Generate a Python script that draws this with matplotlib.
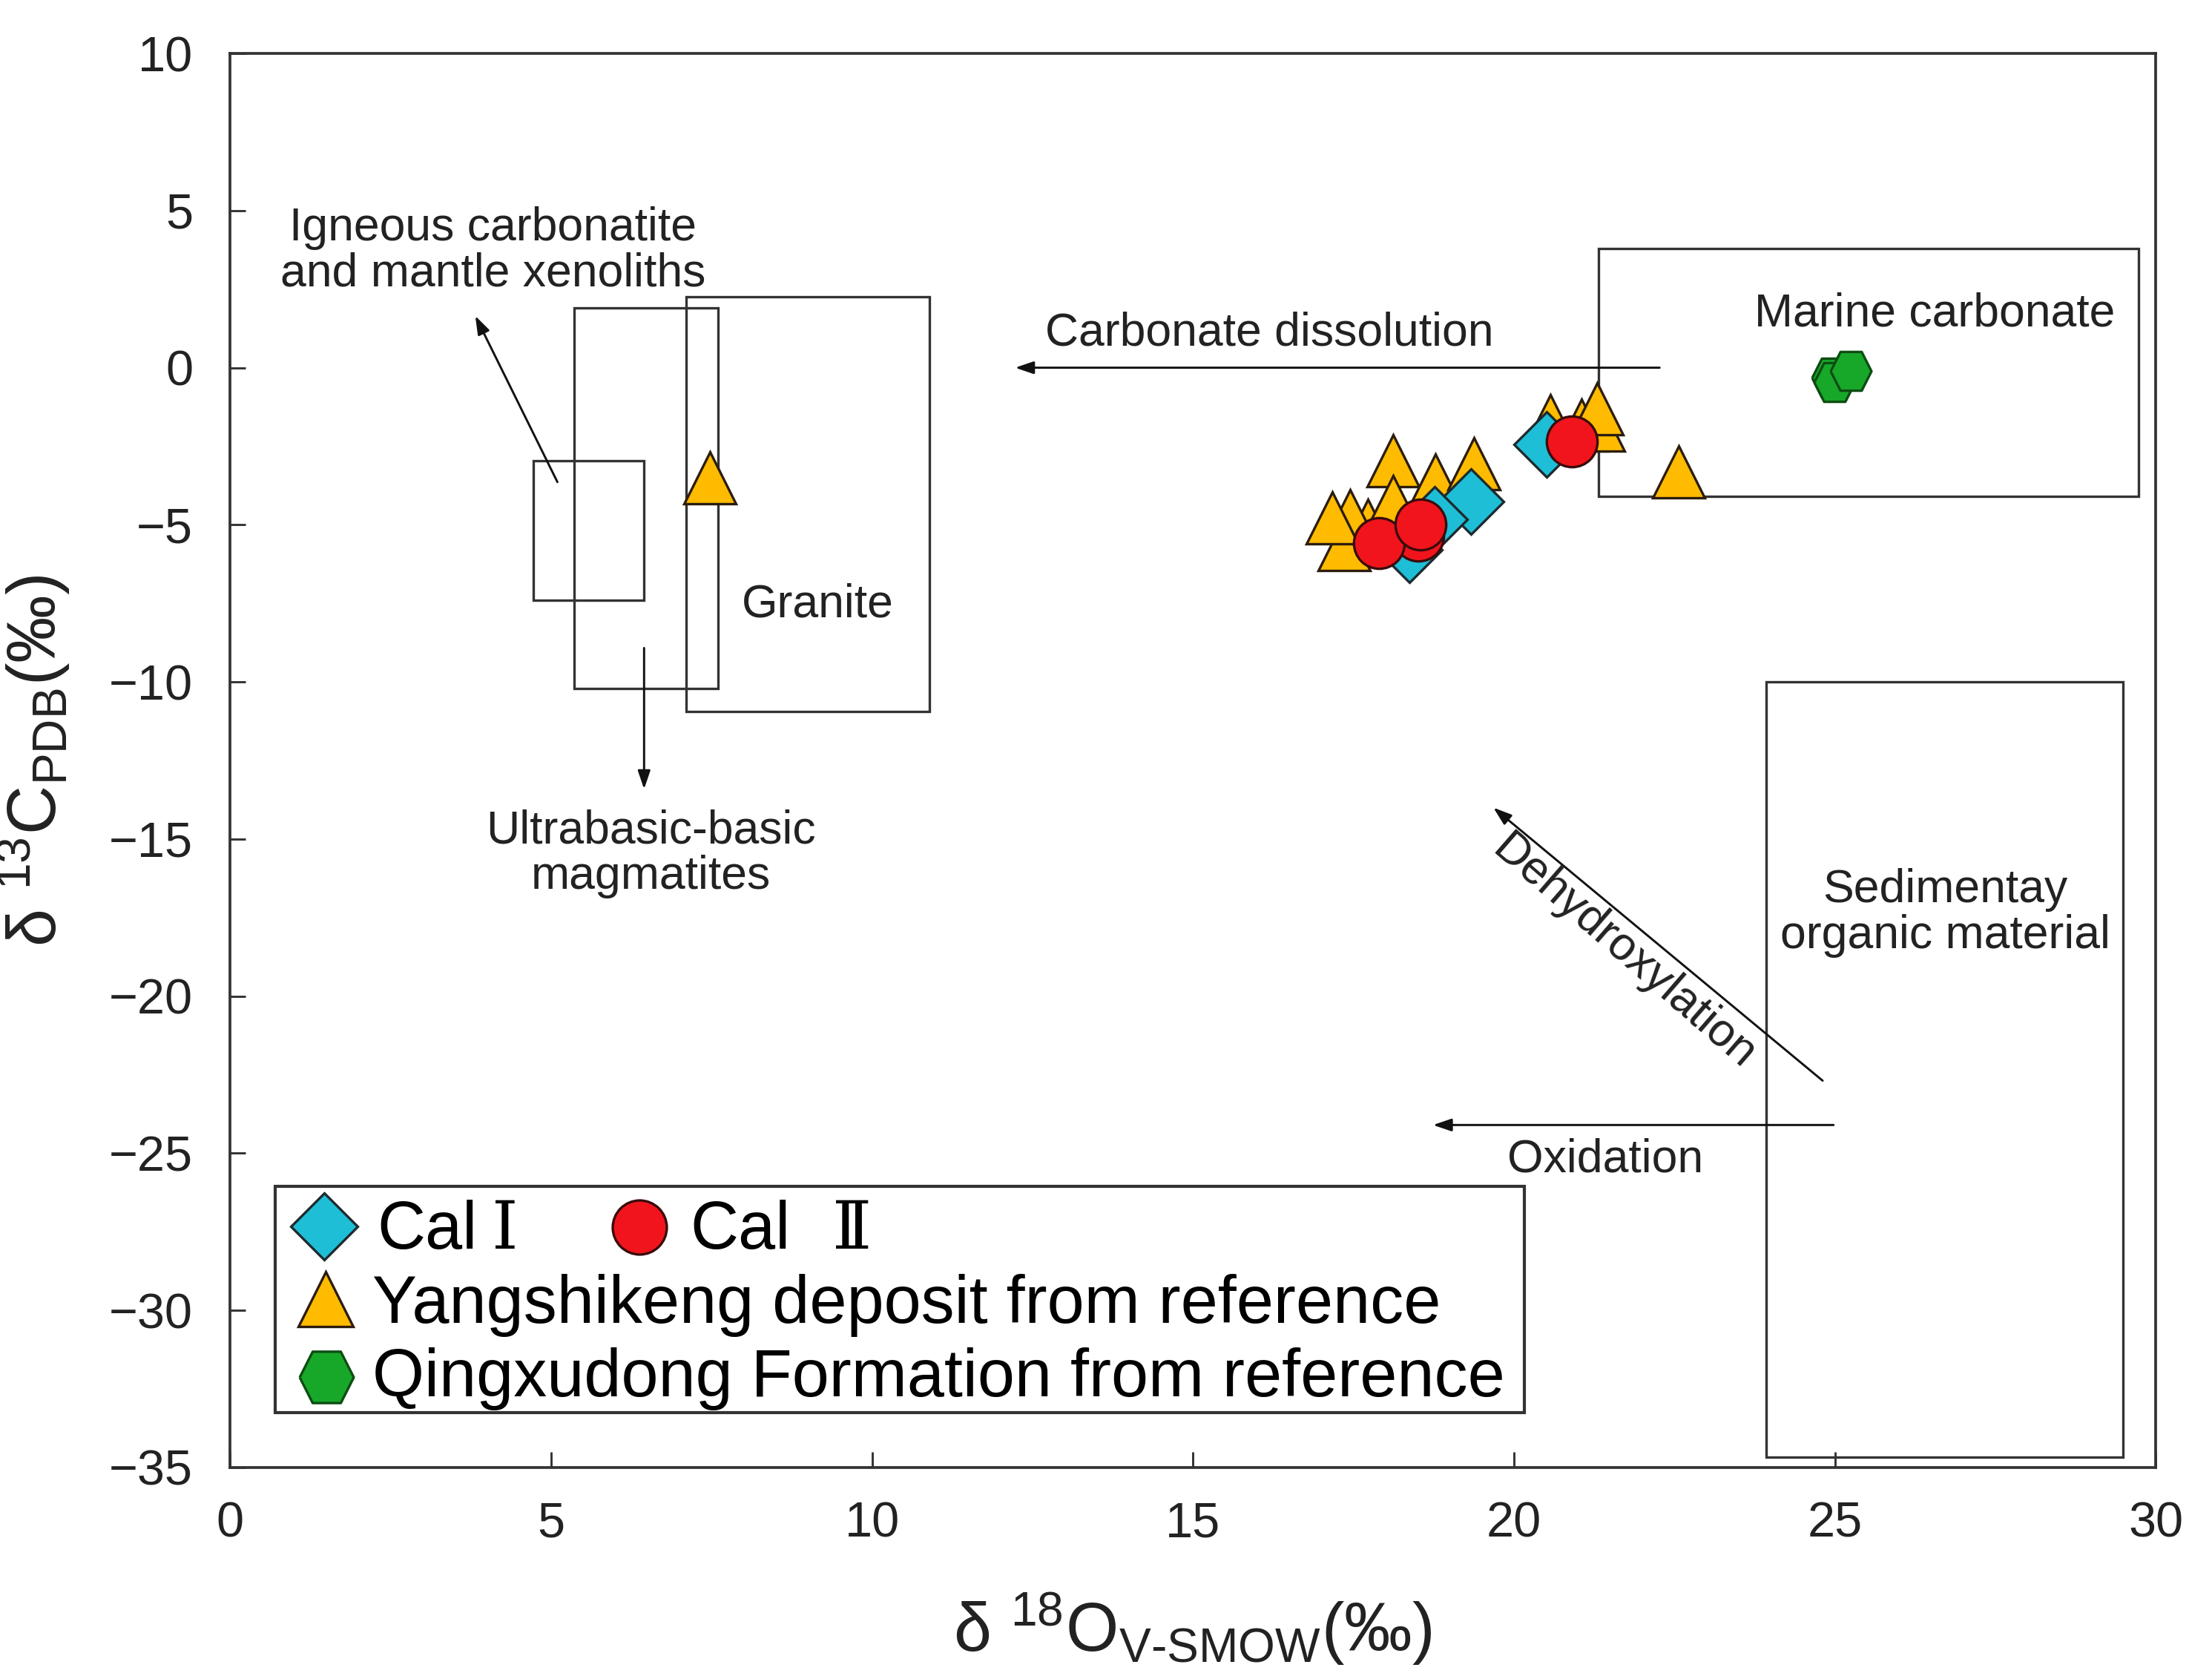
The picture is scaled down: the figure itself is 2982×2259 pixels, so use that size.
"""
plot.py

δ13C vs δ18O diagram for the calcite generations (Cal I / Cal II), with
reference data from the Yangshikeng deposit and the Qingxudong Formation,
plotted over the usual carbon-oxygen source fields.

Output: out.png (2982 x 2259 px)
"""

import matplotlib
matplotlib.use("Agg")
import matplotlib.pyplot as plt
from matplotlib.patches import Rectangle

# --- samples: δ18O (V-SMOW, ‰) and δ13C (PDB, ‰) ---------------------------
CAL1_O = [20.51, 19.33, 18.76, 18.37]
CAL1_C = [-2.43, -4.26, -4.83, -5.79]

CAL2_O = [18.51, 17.90, 18.54, 20.90]
CAL2_C = [-5.34, -5.57, -4.98, -2.35]

YSK_O = [7.47, 17.72, 17.45, 17.35, 17.17, 18.12, 18.12, 18.78, 19.38,
         20.57, 21.05, 21.32, 21.30, 22.57]
YSK_C = [-3.50, -5.02, -4.71, -5.63, -4.79, -2.96, -4.27, -3.57, -3.05,
         -1.68, -1.83, -1.83, -1.30, -3.31]

QXD_O = [24.96, 24.99, 25.25]
QXD_C = [-0.32, -0.46, -0.10]

# --- source fields (δ18O range, δ13C range) --------------------------------
FIELD_NAMES = ["Marine carbonate", "Sedimentary organic material", "Granite",
               "Ultrabasic-basic magmatites", "Igneous carbonatite"]
FIELD_O_MIN = [21.32, 23.93, 7.11, 5.36, 4.73]
FIELD_O_MAX = [29.73, 29.49, 10.89, 7.60, 6.45]
FIELD_C_MIN = [-4.10, -34.68, -10.95, -10.20, -7.40]
FIELD_C_MAX = [3.79, -9.99, 2.26, 1.90, -2.95]

X_TICKS = [0, 5, 10, 15, 20, 25, 30]
Y_TICKS = [10, 5, 0, -5, -10, -15, -20, -25, -30, -35]

LINE_COL = "#333333"
TEXT_COL = "#222222"
ANNOT_FS = 15

DIAMOND = dict(marker="D", ms=14.8, mfc="#1EBED7", mec="#1d2a2e", mew=0.8)
CIRCLE = dict(marker="o", ms=16.4, mfc="#F2141C", mec="#3a0b0b", mew=0.8)
TRIANGLE = dict(marker="^", ms=16.8, mfc="#FFBB00", mec="#2b1d0e", mew=0.8)
HEX_VERTS = [(-1, 0), (-0.52, 0.95), (0.52, 0.95), (1, 0), (0.52, -0.95), (-0.52, -0.95), (-1, 0)]
HEXAGON = dict(marker=HEX_VERTS, ms=13.2, mfc="#17A82A", mec="#0d4d12", mew=0.8)

ARROW = dict(arrowstyle="-|>,head_length=0.5,head_width=0.17",
             color="#111111", lw=0.7, shrinkA=0, shrinkB=0, mutation_scale=10)


def draw_fields(ax):
    for o0, o1, c0, c1 in zip(FIELD_O_MIN, FIELD_O_MAX, FIELD_C_MIN, FIELD_C_MAX):
        ax.add_patch(Rectangle((o0, c0), o1 - o0, c1 - c0, fill=False,
                               edgecolor=LINE_COL, lw=0.8, zorder=2))


def draw_annotations(ax):
    txt = dict(color=TEXT_COL, fontsize=ANNOT_FS, ha="center", va="center",
               linespacing=1.05, zorder=4)

    ax.annotate("", xy=(12.23, 0.0), xytext=(22.27, 0.0), arrowprops=ARROW)
    ax.text(16.19, 1.10, "Carbonate dissolution", **txt)

    ax.annotate("", xy=(3.82, 1.65), xytext=(5.10, -3.64), arrowprops=ARROW)
    ax.text(4.10, 3.72, "Igneous carbonatite\nand mantle xenoliths", **txt)

    ax.annotate("", xy=(6.45, -13.41), xytext=(6.45, -8.92), arrowprops=ARROW)
    ax.text(6.55, -15.47, "Ultrabasic-basic\nmagmatites", **txt)

    ax.text(9.15, -7.54, "Granite", **txt)
    ax.text(26.56, 1.71, "Marine carbonate", **txt)
    ax.text(26.72, -17.35, "Sedimentay\norganic material", **txt)

    ax.annotate("", xy=(19.68, -14.0), xytext=(24.81, -22.69), arrowprops=ARROW)
    ax.text(21.72, -18.62, "Dehydroxylation", rotation=-41,
            rotation_mode="anchor", **txt)

    ax.annotate("", xy=(18.74, -24.1), xytext=(24.98, -24.1), arrowprops=ARROW)
    ax.text(21.42, -25.21, "Oxidation", **txt)


def draw_legend(ax):
    # hand-built legend box: two entries on the first row, one on each after
    ax.add_patch(Rectangle((0.0235, 0.0388), 0.6485, 0.16, transform=ax.transAxes,
                           facecolor="white", edgecolor=LINE_COL, lw=1.0, zorder=8))
    mk = dict(transform=ax.transAxes, clip_on=False, zorder=9, ls="none")
    lt = dict(transform=ax.transAxes, fontsize=21.6, color="black",
              va="baseline", ha="left", zorder=9)
    roman = dict(lt, family=["DejaVu Serif", "Noto Sans CJK SC"])

    ax.plot([0.0489], [0.1705], **mk, **dict(DIAMOND, ms=15.2))
    ax.text(0.0763, 0.1548, "Cal", **lt)
    ax.text(0.1360, 0.1548, "\u2160", **roman)

    ax.plot([0.2126], [0.1700], **mk, **dict(CIRCLE, ms=17.5))
    ax.text(0.2388, 0.1548, "Cal", **lt)
    ax.text(0.3128, 0.1548, "\u2161", **roman)

    ax.plot([0.0497], [0.1191], **mk, **dict(TRIANGLE, ms=17.8))
    ax.text(0.0740, 0.1023, "Yangshikeng deposit from reference", **lt)

    ax.plot([0.0500], [0.0640], **mk, **dict(HEXAGON, ms=17.5))
    ax.text(0.0740, 0.0504, "Qingxudong Formation from reference", **lt)


def main():
    plt.rcParams["font.family"] = ["Liberation Sans", "DejaVu Sans"]
    plt.rcParams["mathtext.fontset"] = "custom"
    plt.rcParams["mathtext.rm"] = "Liberation Sans"
    plt.rcParams["mathtext.it"] = "Liberation Sans:italic"
    plt.rcParams["mathtext.bf"] = "Liberation Sans:bold"

    fig = plt.figure(figsize=(9.94, 7.53), dpi=300)
    ax = fig.add_axes([0.1040, 0.1244, 0.8706, 0.8437])

    ax.set_xlim(0, 30)
    ax.set_ylim(-35, 10)
    ax.set_xticks(X_TICKS)
    ax.set_yticks(Y_TICKS)
    ax.tick_params(direction="in", length=5, width=0.7, color=LINE_COL,
                   labelsize=16, labelcolor=TEXT_COL)
    ax.tick_params(axis="x", pad=11)
    ax.tick_params(axis="y", pad=12)
    for sp in ax.spines.values():
        sp.set_color(LINE_COL)
        sp.set_linewidth(0.9)

    draw_fields(ax)
    draw_annotations(ax)

    ax.plot(YSK_O, YSK_C, ls="none", zorder=5, **TRIANGLE)
    ax.plot(CAL1_O, CAL1_C, ls="none", zorder=6, **DIAMOND)
    for o, c in zip(CAL2_O, CAL2_C):
        ax.plot([o], [c], ls="none", zorder=7, **CIRCLE)
    for o, c in zip(QXD_O, QXD_C):
        ax.plot([o], [c], ls="none", zorder=7, **HEXAGON)

    draw_legend(ax)

    ax.set_xlabel("δ $^{18}$O$_{\\mathregular{V\\text{-}SMOW}}$(‰)",
                  fontsize=22, color=TEXT_COL, labelpad=14)
    ax.set_ylabel("δ $^{13}$C$_{\\mathregular{PDB}}$(‰)",
                  fontsize=22, color=TEXT_COL, labelpad=12)

    fig.savefig("out.png", dpi=300, facecolor="white")
    plt.close(fig)


if __name__ == "__main__":
    main()
